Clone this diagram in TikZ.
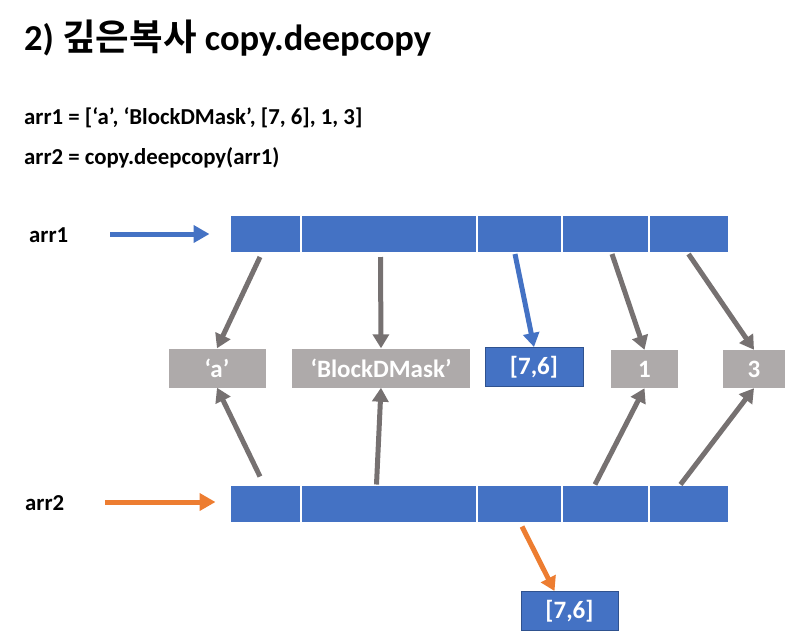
\documentclass[tikz,border=0pt]{standalone}
\usepackage{fontspec}
\setmainfont{Carlito}
\newfontfamily\krfont{Noto Sans CJK KR}[BoldFont={Noto Sans CJK KR Bold}]
\usetikzlibrary{positioning, arrows.meta}
\definecolor{cellblue}{HTML}{4472C4}
\definecolor{boxgray}{HTML}{AEAAAA}
\definecolor{arrowgray}{HTML}{767171}
\definecolor{copyorange}{HTML}{ED7D31}
\definecolor{edgeblue}{HTML}{2F528F}
\tikzset{
    cell/.style={fill=cellblue, draw=white, line width=1pt, minimum height=37pt, inner sep=0pt},
    valbox/.style={fill=boxgray, text=white, font=\bfseries\fontsize{25}{30}\selectfont, minimum height=39pt, inner sep=0pt},
    listbox/.style={valbox, fill=cellblue, draw=edgeblue, line width=1pt},
    codetext/.style={anchor=base west, inner sep=0pt, font=\bfseries\fontsize{22.8}{27}\selectfont},
    refarrow/.style={line width=5pt, arrowgray, -{Triangle[width=16pt,length=14pt]}},
    pointer/.style={line width=5pt, -{Triangle[width=17pt,length=16pt]}}
}

\begin{document}
\begin{tikzpicture}[x=1pt, y=-1pt]
    \useasboundingbox (0,0) rectangle (800,641);

    %Texts
    \node[codetext, font=\bfseries\fontsize{36.5}{40}\selectfont] at (24,50) (title) {2) {\krfont\bfseries 깊은복사} copy.deepcopy};
    \node[codetext] at (24,124) (line1) {arr1 = [‘a’, ‘BlockDMask’, [7, 6], 1, 3]};
    \node[codetext] at (24,164) (line2) {arr2 = copy.deepcopy(arr1)};
    \node[codetext] at (29,242) (arr1) {arr1};
    \node[codetext] at (25,510) (arr2) {arr2};

    %Arrays
    \node[cell, minimum width=70pt] at (265,234) (t1) {};
    \node[cell, minimum width=175pt, right=0pt of t1] (t2) {};
    \node[cell, minimum width=84pt, right=0pt of t2] (t3) {};
    \node[cell, minimum width=86pt, right=0pt of t3] (t4) {};
    \node[cell, minimum width=79pt, right=0pt of t4] (t5) {};

    \node[cell, minimum width=70pt] at (265,503.5) (b1) {};
    \node[cell, minimum width=175pt, right=0pt of b1] (b2) {};
    \node[cell, minimum width=84pt, right=0pt of b2] (b3) {};
    \node[cell, minimum width=86pt, right=0pt of b3] (b4) {};
    \node[cell, minimum width=79pt, right=0pt of b4] (b5) {};

    %Values
    \node[valbox, minimum width=97pt] at (217,368) (a) {‘a’};
    \node[valbox, minimum width=178pt] at (381,368) (mask) {‘BlockDMask’};
    \node[listbox, minimum width=98pt] at (534,367) (list) {[7,6]};
    \node[valbox, minimum width=67pt, minimum height=38pt] at (644.5,369) (one) {1};
    \node[valbox, minimum width=62pt, minimum height=38pt] at (754,369) (three) {3};
    \node[listbox, minimum width=97pt] at (569.5,611) (copy) {[7,6]};

    %Lines
    \coordinate (p1) at (110,234);
    \coordinate (p2) at (105,502);
    \draw[pointer, cellblue] (p1) -- ([xshift=-20pt]t1.west);
    \draw[pointer, copyorange] (p2) -- ([xshift=-14pt, yshift=1.5pt]b1.west);

    \draw[refarrow] ([xshift=-5pt, yshift=-4pt]t1.south) -- (a.north);
    \draw[refarrow] ([xshift=-8pt, yshift=-4pt]t2.south) -- (mask.north);
    \draw[refarrow, cellblue] ([xshift=-4pt, yshift=-1pt]t3.south) -- (list.north);
    \draw[refarrow] ([xshift=7pt, yshift=-1pt]t4.south) -- (one.north);
    \draw[refarrow] ([yshift=-1pt]t5.south) -- (three.north);

    \draw[refarrow] ([xshift=-5pt, yshift=8pt]b1.north) -- (a.south);
    \draw[refarrow] ([xshift=-12pt]b2.north) -- (mask.south);
    \draw[refarrow] ([xshift=-10pt]b4.north) -- (one.south);
    \draw[refarrow] ([xshift=-8pt]b5.north) -- (three.south);
    \draw[refarrow, copyorange] ([xshift=3pt, yshift=-4pt]b3.south) -- ([xshift=-15pt]copy.north);
\end{tikzpicture}
\end{document}
